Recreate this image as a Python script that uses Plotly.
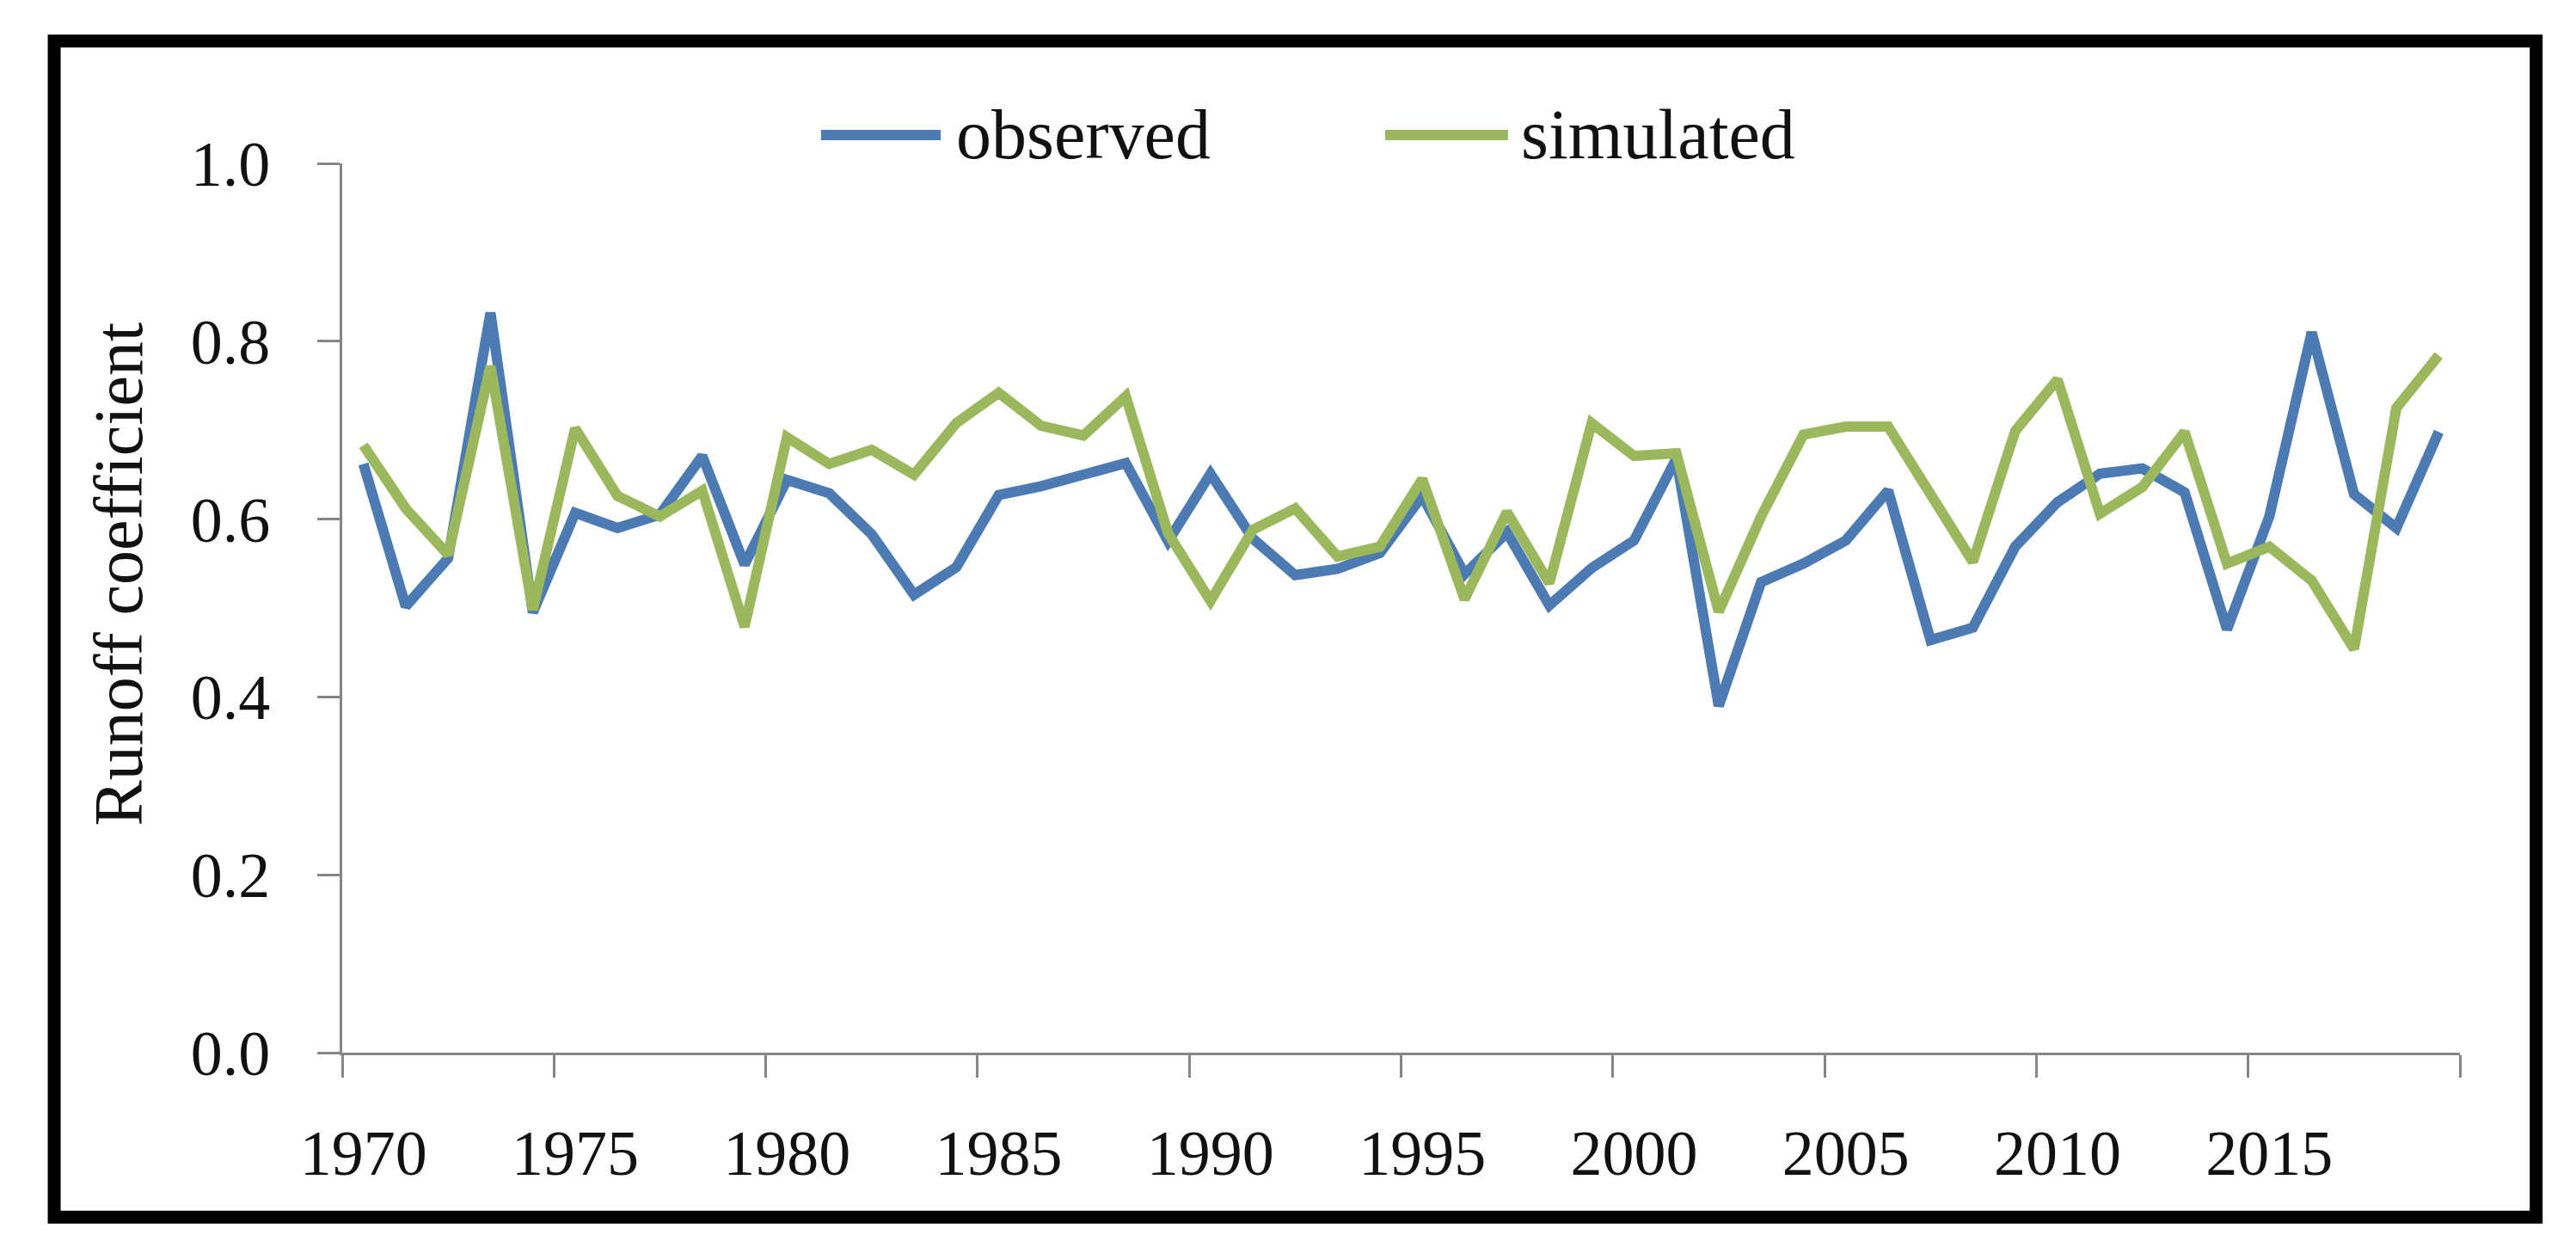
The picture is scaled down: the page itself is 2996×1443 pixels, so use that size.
import plotly.graph_objects as go

years = [1970, 1971, 1972, 1973, 1974, 1975, 1976, 1977, 1978, 1979,
         1980, 1981, 1982, 1983, 1984, 1985, 1986, 1987, 1988, 1989,
         1990, 1991, 1992, 1993, 1994, 1995, 1996, 1997, 1998, 1999,
         2000, 2001, 2002, 2003, 2004, 2005, 2006, 2007, 2008, 2009,
         2010, 2011, 2012, 2013, 2014, 2015, 2016, 2017, 2018, 2019]

observed = [0.662, 0.502, 0.556, 0.832, 0.495, 0.607, 0.590, 0.605, 0.671, 0.549,
            0.644, 0.629, 0.583, 0.515, 0.546, 0.627, 0.637, 0.651, 0.663, 0.575,
            0.651, 0.578, 0.537, 0.544, 0.562, 0.626, 0.538, 0.585, 0.503, 0.545,
            0.576, 0.668, 0.390, 0.529, 0.550, 0.576, 0.632, 0.464, 0.478, 0.569,
            0.619, 0.651, 0.657, 0.630, 0.476, 0.603, 0.810, 0.628, 0.590, 0.698]

simulated = [0.683, 0.612, 0.560, 0.772, 0.498, 0.702, 0.626, 0.603, 0.632, 0.479,
             0.692, 0.662, 0.678, 0.650, 0.708, 0.742, 0.705, 0.694, 0.738, 0.584,
             0.508, 0.588, 0.612, 0.558, 0.569, 0.645, 0.510, 0.608, 0.528, 0.708,
             0.671, 0.674, 0.496, 0.603, 0.695, 0.704, 0.704, 0.627, 0.552, 0.699,
             0.757, 0.606, 0.636, 0.698, 0.550, 0.569, 0.531, 0.454, 0.725, 0.784]

label_years = [1970, 1975, 1980, 1985, 1990, 1995, 2000, 2005, 2010, 2015]
label_text = ["1970", "1975", "1980", "1985", "1990", "1995", "2000", "2005", "2010", "2015"]
tick_marks = [1969.5, 1974.5, 1979.5, 1984.5, 1989.5, 1994.5, 1999.5, 2004.5, 2009.5, 2014.5, 2019.5]
y_ticks = [0.0, 0.2, 0.4, 0.6, 0.8, 1.0]

series_names = ["observed", "simulated"]
colors = ["#4B7BB2", "#9BB95C"]

FONT = "Liberation Serif"
AXIS_COLOR = "#868686"
LINE_W = 12

fig = go.Figure()
fig.add_trace(go.Scatter(x=years, y=observed, mode="lines", name=series_names[0],
                         line=dict(color=colors[0], width=LINE_W), showlegend=False))
fig.add_trace(go.Scatter(x=years, y=simulated, mode="lines", name=series_names[1],
                         line=dict(color=colors[1], width=LINE_W), showlegend=False))

fig.update_layout(
    width=2996, height=1443,
    margin=dict(l=390, r=143, t=182, b=227),
    paper_bgcolor="white", plot_bgcolor="white",
    font=dict(family=FONT, color="#000000", size=74),
    xaxis=dict(
        range=[1969.5, 2019.5], showgrid=False, zeroline=False,
        showline=True, linecolor=AXIS_COLOR, linewidth=3,
        tickmode="array", tickvals=label_years, ticktext=label_text,
        ticks="", ticklabelstandoff=50,
        tickfont=dict(family=FONT, size=74, color="#111111"),
        minor=dict(tickmode="array", tickvals=tick_marks, ticks="outside",
                   ticklen=26, tickwidth=3, tickcolor=AXIS_COLOR, showgrid=False),
    ),
    yaxis=dict(
        range=[0, 1], showgrid=False, zeroline=False,
        showline=True, linecolor=AXIS_COLOR, linewidth=3,
        tickmode="array", tickvals=y_ticks, tickformat=".1f",
        ticks="outside", ticklen=26, tickwidth=3, tickcolor=AXIS_COLOR,
        ticklabelstandoff=40,
        tickfont=dict(family=FONT, size=74, color="#111111"),
    ),
)

# y-axis title
fig.add_annotation(text="Runoff coefficient", xref="paper", yref="paper",
                   x=-0.1056, y=0.538, textangle=-90, showarrow=False,
                   xanchor="center", yanchor="middle",
                   font=dict(family=FONT, size=80, color="#111111"))

# legend drawn manually to match the long line samples
legend_y = 1.032
legend_items = [
    (0.2261, 0.2826, 0.2891),
    (0.4925, 0.5505, 0.5558),
]
for (x0, x1, xt), name, col in zip(legend_items, series_names, colors):
    fig.add_shape(type="line", xref="paper", yref="paper", x0=x0, x1=x1,
                  y0=legend_y, y1=legend_y, line=dict(color=col, width=LINE_W))
    fig.add_annotation(text=name, xref="paper", yref="paper", x=xt, y=legend_y,
                       xanchor="left", yanchor="middle", showarrow=False,
                       font=dict(family=FONT, size=82, color="#111111"))

# outer black frame
fig.add_shape(type="rect", xref="paper", yref="paper",
              x0=-0.136, x1=1.036, y0=-0.185, y1=1.1376,
              line=dict(color="black", width=15), fillcolor="rgba(0,0,0,0)")

fig.write_html("out.html")
